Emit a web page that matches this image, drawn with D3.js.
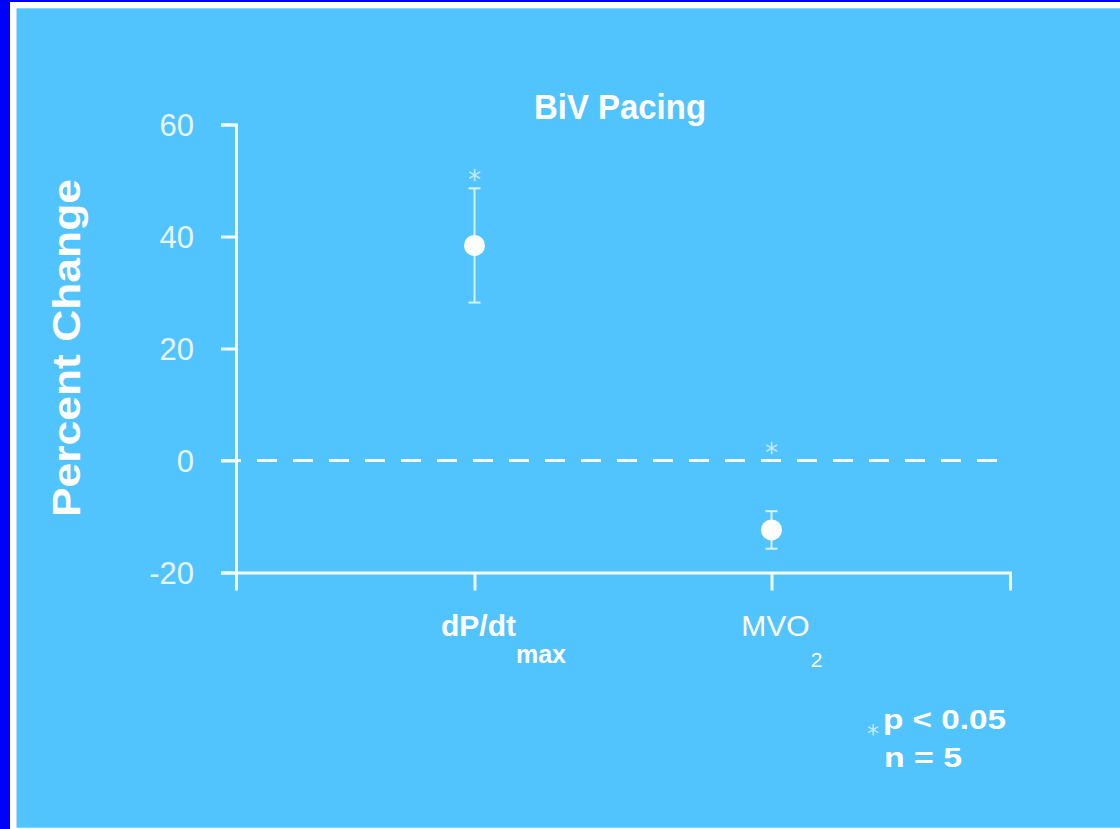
<!DOCTYPE html>
<html>
<head>
<meta charset="utf-8">
<script src="https://cdn.jsdelivr.net/npm/d3@7"></script>
<style>
  html, body { margin: 0; padding: 0; background: #ffffff; }
  svg { display: block; }
</style>
</head>
<body>
<script>
// Percent change under biventricular pacing: mean ± error for each measure
const categories = ["dP/dt", "MVO"];
const subscripts = ["max", "2"];
const means = [38.4, -12.4];
const errors = [10.2, 3.35];
const significant = [true, true];
const yTicks = [-20, 0, 20, 40, 60];

const W = 1120, H = 829;
const bg = "#52c4fd";
const ink = "#f4fbff";
const soft = "#d9f1ff";

const svg = d3.select("body").append("svg")
  .attr("width", W).attr("height", H);

// slide frame
svg.append("rect").attr("x", 0).attr("y", 0).attr("width", W).attr("height", H).attr("fill", "#ffffff");
svg.append("rect").attr("x", 0).attr("y", 0).attr("width", W).attr("height", 2).attr("fill", "#0000ff");
svg.append("rect").attr("x", 0).attr("y", 0).attr("width", 10).attr("height", H).attr("fill", "#0000ff");
svg.append("rect").attr("x", 16.5).attr("y", 8.3).attr("width", W - 16.5).attr("height", 819.4).attr("fill", bg);

const y = d3.scaleLinear().domain([-20, 60]).range([572.5, 124.5]);
const x = d3.scalePoint().domain(categories).range([236, 1010]).padding(0.803);

// zero reference line
svg.append("line")
  .attr("x1", 221).attr("x2", 998)
  .attr("y1", y(0)).attr("y2", y(0))
  .attr("stroke", ink).attr("stroke-width", 3)
  .attr("stroke-dasharray", "20,16");

// y axis
const gy = svg.append("g")
  .attr("transform", "translate(236,0)")
  .call(d3.axisLeft(y).tickValues(yTicks).tickFormat(d => String(d))
    .tickSizeInner(15).tickSizeOuter(15).tickPadding(27));
gy.selectAll("path, line").attr("stroke", ink).attr("stroke-width", 3);
gy.selectAll("text")
  .attr("fill", "#e6f6ff")
  .attr("font-family", "Liberation Sans, Arial, sans-serif")
  .attr("font-size", 31)
  .attr("dy", "0.36em");

// x axis
const gx = svg.append("g")
  .attr("transform", `translate(0,${y(-20)})`)
  .call(d3.axisBottom(x).tickSizeInner(18).tickSizeOuter(18).tickFormat(() => ""));
gx.selectAll("path, line").attr("stroke", ink).attr("stroke-width", 3);
gx.select(".domain").attr("stroke-linejoin", "miter");

// category labels with subscripts
const labelY = 636;
categories.forEach((c, i) => {
  const t = svg.append("text")
    .attr("x", x(c) + 4)
    .attr("y", labelY)
    .attr("fill", "#ffffff")
    .attr("font-family", "Liberation Sans, Arial, sans-serif")
    .attr("font-size", 30)
    .attr("font-weight", i === 0 ? "bold" : "normal")
    .attr("text-anchor", "middle")
    .text(c);
  const bb = t.node().getBBox();
  svg.append("text")
    .attr("x", bb.x + bb.width + (i === 0 ? 0 : 1))
    .attr("y", labelY + (i === 0 ? 27 : 31))
    .attr("fill", "#ffffff")
    .attr("font-family", "Liberation Sans, Arial, sans-serif")
    .attr("font-size", i === 0 ? 25 : 21)
    .attr("font-weight", i === 0 ? "bold" : "normal")
    .text(subscripts[i]);
});

// error bars, points and significance marks
const capHalf = 6;
const points = svg.append("g");
means.forEach((m, i) => {
  const cx = x(categories[i]);
  const g = points.append("g");
  g.append("line")
    .attr("x1", cx).attr("x2", cx)
    .attr("y1", y(m + errors[i])).attr("y2", y(m - errors[i]))
    .attr("stroke", soft).attr("stroke-width", 2);
  [m + errors[i], m - errors[i]].forEach(v => {
    g.append("line")
      .attr("x1", cx - capHalf).attr("x2", cx + capHalf)
      .attr("y1", y(v)).attr("y2", y(v))
      .attr("stroke", soft).attr("stroke-width", 2);
  });
  g.append("circle")
    .attr("cx", cx).attr("cy", y(m)).attr("r", 10.5)
    .attr("fill", "#ffffff");
  if (significant[i]) {
    const top = Math.max(m + errors[i], 0);
    g.append("text")
      .attr("x", cx)
      .attr("y", y(top) + 1)
      .attr("fill", "#c4eaff")
      .attr("font-family", "DejaVu Sans, sans-serif")
      .attr("font-size", 26)
      .attr("text-anchor", "middle")
      .text("*");
  }
});

// title
svg.append("text")
  .attr("x", 620).attr("y", 119)
  .attr("fill", "#ffffff")
  .attr("font-family", "Liberation Sans, Arial, sans-serif")
  .attr("font-size", 35)
  .attr("font-weight", "bold")
  .attr("text-anchor", "middle")
  .attr("textLength", 172)
  .attr("lengthAdjust", "spacingAndGlyphs")
  .text("BiV Pacing");

// y axis title
svg.append("text")
  .attr("transform", "translate(80,348) rotate(-90)")
  .attr("fill", "#ffffff")
  .attr("font-family", "Liberation Sans, Arial, sans-serif")
  .attr("font-size", 38)
  .attr("font-weight", "bold")
  .attr("text-anchor", "middle")
  .attr("textLength", 338)
  .attr("lengthAdjust", "spacingAndGlyphs")
  .text("Percent Change");

// significance note
svg.append("text")
  .attr("x", 873).attr("y", 742)
  .attr("fill", "#c4eaff")
  .attr("font-family", "DejaVu Sans, sans-serif")
  .attr("font-size", 24)
  .attr("text-anchor", "middle")
  .text("*");
svg.append("text")
  .attr("x", 883).attr("y", 729)
  .attr("fill", "#ffffff")
  .attr("font-family", "Liberation Sans, Arial, sans-serif")
  .attr("font-size", 28)
  .attr("font-weight", "bold")
  .attr("textLength", 123)
  .attr("lengthAdjust", "spacingAndGlyphs")
  .text("p < 0.05");
svg.append("text")
  .attr("x", 884).attr("y", 767)
  .attr("fill", "#ffffff")
  .attr("font-family", "Liberation Sans, Arial, sans-serif")
  .attr("font-size", 28)
  .attr("font-weight", "bold")
  .attr("textLength", 78)
  .attr("lengthAdjust", "spacingAndGlyphs")
  .text("n = 5");
</script>
</body>
</html>
